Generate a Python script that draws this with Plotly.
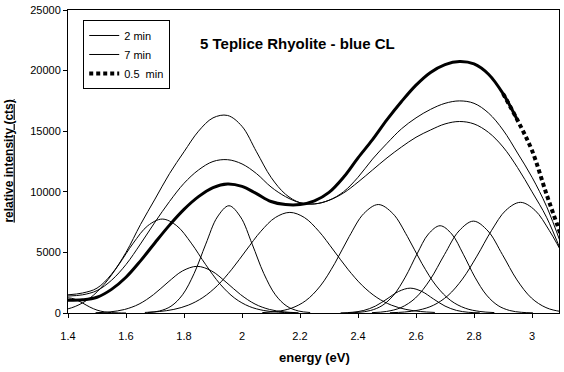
import plotly.graph_objects as go

# ---- measured spectra (energy grid in eV, intensity in counts) ----
energy = [1.40, 1.45, 1.50, 1.55, 1.60, 1.65, 1.70, 1.75, 1.80, 1.85, 1.90, 1.95,
          2.00, 2.05, 2.10, 2.15, 2.20, 2.25, 2.30, 2.35, 2.40, 2.45, 2.50, 2.55,
          2.60, 2.65, 2.70, 2.75, 2.80, 2.85, 2.90, 2.95, 3.00, 3.05, 3.10]

cl_2min = [1400, 1500, 1850, 2700, 4000, 5700, 7500, 9200, 10700, 11800, 12500, 12650,
           12300, 11500, 10400, 9600, 9100, 9000, 9300, 10000, 11200, 12700, 14000, 15200,
           16100, 16800, 17300, 17500, 17300, 16500, 15100, 13200, 11200, 8800, 5700]

cl_7min = [1500, 1650, 2050, 3200, 5000, 7300, 9400, 11500, 13300, 15000, 16100, 16300,
           15400, 13300, 11200, 9800, 9100, 9000, 9300, 9900, 10800, 11800, 12800, 13700,
           14500, 15100, 15600, 15800, 15600, 14900, 13700, 12000, 10000, 7900, 5100]

cl_05min = [1050, 1090, 1300, 1950, 2950, 4300, 5800, 7250, 8550, 9600, 10350, 10650,
            10450, 9850, 9200, 8950, 8950, 9250, 9950, 11200, 12800, 14300, 15950, 17450,
            18800, 19850, 20500, 20750, 20550, 19700, 18100, 15900, 13400, 9800, 6400]

# ---- fitted Gaussian components ----
comp_a_x = [1.375, 1.400, 1.425, 1.450, 1.475, 1.500, 1.525, 1.550, 1.575, 1.600]
comp_a_y = [1127, 1250, 1127, 827, 493, 239, 95, 30, 8, 0]

comp_b_x = [1.325, 1.375, 1.425, 1.475, 1.525, 1.575, 1.625, 1.675, 1.725, 1.775,
            1.825, 1.875, 1.925, 1.975, 2.025, 2.075, 2.125, 2.175]
comp_b_y = [68, 207, 541, 1220, 2373, 3983, 5765, 7197, 7750, 7197,
            5765, 3983, 2373, 1220, 541, 207, 68, 19]

comp_c_x = [1.495, 1.545, 1.595, 1.645, 1.695, 1.745, 1.795, 1.845, 1.895, 1.945,
            1.995, 2.045, 2.095, 2.145, 2.195]
comp_c_y = [24, 93, 291, 737, 1519, 2547, 3472, 3850, 3472, 2547, 1519, 737, 291, 93, 24]

comp_d_x = [1.675, 1.715, 1.755, 1.795, 1.835, 1.875, 1.915, 1.955, 1.995, 2.035,
            2.075, 2.115, 2.155, 2.195, 2.235]
comp_d_y = [39, 164, 556, 1505, 3267, 5683, 7922, 8850, 7922, 5683, 3267, 1505, 556, 164, 39]

comp_e_x = [1.665, 1.715, 1.765, 1.815, 1.865, 1.915, 1.965, 2.015, 2.065, 2.115, 2.165,
            2.215, 2.265, 2.315, 2.365, 2.415, 2.465, 2.515, 2.565, 2.615, 2.665]
comp_e_y = [46, 123, 297, 649, 1276, 2260, 3611, 5197, 6741, 7879, 8300,
            7879, 6741, 5197, 3611, 2260, 1276, 649, 297, 123, 46]

comp_f_x = [2.07, 2.12, 2.17, 2.22, 2.27, 2.32, 2.37, 2.42, 2.47, 2.52, 2.57, 2.62,
            2.67, 2.72, 2.77, 2.82, 2.87]
comp_f_y = [35, 127, 393, 1022, 2232, 4097, 6325, 8206, 8950, 8206, 6325, 4097,
            2232, 1022, 393, 127, 35]

comp_g_x = [2.34, 2.38, 2.42, 2.46, 2.50, 2.54, 2.58, 2.62, 2.66, 2.70, 2.74, 2.78, 2.82]
comp_g_y = [12, 59, 211, 570, 1161, 1778, 2050, 1778, 1161, 570, 211, 59, 12]

comp_h_x = [2.363, 2.403, 2.443, 2.483, 2.523, 2.563, 2.603, 2.643, 2.683, 2.723,
            2.763, 2.803, 2.843, 2.883, 2.923, 2.963, 3.003]
comp_h_y = [13, 57, 206, 610, 1482, 2960, 4850, 6523, 7200, 6523, 4850, 2960,
            1482, 610, 206, 57, 13]

comp_i_x = [2.448, 2.498, 2.548, 2.598, 2.648, 2.698, 2.748, 2.798, 2.848, 2.898,
            2.948, 2.998, 3.048, 3.098, 3.148]
comp_i_y = [29, 128, 446, 1236, 2732, 4816, 6767, 7580, 6767, 4816, 2732, 1236, 446, 128, 29]

comp_j_x = [2.51, 2.56, 2.61, 2.66, 2.71, 2.76, 2.81, 2.86, 2.91, 2.96, 3.01, 3.06, 3.11, 3.16]
comp_j_y = [23, 80, 244, 637, 1437, 2796, 4692, 6792, 8479, 9130, 8479, 6792, 4692, 2796]

components = [(comp_a_x, comp_a_y), (comp_b_x, comp_b_y), (comp_c_x, comp_c_y),
              (comp_d_x, comp_d_y), (comp_e_x, comp_e_y), (comp_f_x, comp_f_y),
              (comp_g_x, comp_g_y), (comp_h_x, comp_h_y), (comp_i_x, comp_i_y),
              (comp_j_x, comp_j_y)]

x_ticks = [1.4, 1.6, 1.8, 2.0, 2.2, 2.4, 2.6, 2.8, 3.0]
x_tick_text = ["1.4", "1.6", "1.8", "2", "2.2", "2.4", "2.6", "2.8", "3"]
y_ticks = [0, 5000, 10000, 15000, 20000, 25000]
y_tick_text = ["0", "5000", "10000", "15000", "20000", "25000"]

FONT = "Liberation Sans, Arial, sans-serif"

fig = go.Figure()

for cx, cy in components:
    fig.add_trace(go.Scatter(x=cx, y=cy, mode="lines", line=dict(color="black", width=1, shape="spline"),
                             showlegend=False, hoverinfo="skip"))

fig.add_trace(go.Scatter(x=energy, y=cl_2min, mode="lines", name="2 min",
                         line=dict(color="black", width=1, shape="spline"), legendrank=1))
fig.add_trace(go.Scatter(x=energy, y=cl_7min, mode="lines", name="7 min",
                         line=dict(color="black", width=1, shape="spline"), legendrank=2))

split = 32
fig.add_trace(go.Scatter(x=energy[:split], y=cl_05min[:split], mode="lines", name="0.5  min",
                         line=dict(color="black", width=3, shape="spline"), showlegend=False))
fig.add_trace(go.Scatter(x=energy[split - 2:], y=cl_05min[split - 2:], mode="lines", name="0.5  min",
                         line=dict(color="black", width=4, dash="4px,3px", shape="spline"),
                         legendrank=3))

fig.update_layout(
    width=564, height=372,
    margin=dict(l=68, r=5, t=10, b=59),
    paper_bgcolor="white", plot_bgcolor="white",
    font=dict(family=FONT, size=11, color="black"),
    showlegend=True,
    legend=dict(x=0.031, y=0.967, xanchor="left", yanchor="top",
                bgcolor="white", bordercolor="black", borderwidth=1,
                font=dict(family=FONT, size=11, color="black"),
                tracegroupgap=0, itemwidth=30),
    xaxis=dict(range=[1.4, 3.093], tickvals=x_ticks, ticktext=x_tick_text,
               showline=True, linecolor="black", linewidth=1, mirror=True,
               ticks="outside", ticklen=4, tickcolor="black", showgrid=False, zeroline=False,
               ticklabelstandoff=9, tickfont=dict(family=FONT, size=11)),
    yaxis=dict(range=[0, 25000], tickvals=y_ticks, ticktext=y_tick_text,
               showline=True, linecolor="black", linewidth=1, mirror=True,
               ticks="outside", ticklen=4, tickcolor="black", showgrid=False, zeroline=False,
               tickfont=dict(family=FONT, size=11)),
    annotations=[
        dict(text="<b>5 Teplice Rhyolite - blue CL</b>", xref="paper", yref="paper",
             x=0.468, y=0.888, xanchor="center", yanchor="middle", showarrow=False,
             font=dict(family=FONT, size=15, color="black")),
        dict(text="<b>energy (eV)</b>", xref="paper", yref="paper",
             x=0.503, y=-0.148, xanchor="center", yanchor="middle", showarrow=False,
             font=dict(family=FONT, size=13, color="black")),
        dict(text="<b><u>relative intensity (cts)</u></b>", xref="paper", yref="paper",
             x=-0.122, y=0.5, xanchor="center", yanchor="middle", showarrow=False,
             textangle=-90, font=dict(family=FONT, size=12, color="black")),
    ],
)

fig.write_html("out.html")
